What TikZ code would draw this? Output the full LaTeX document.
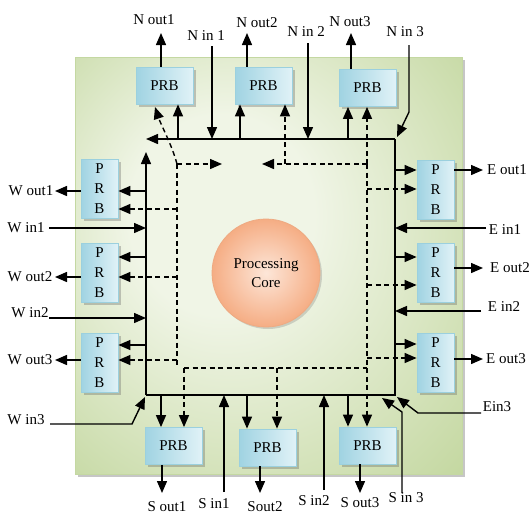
\documentclass[tikz,border=0pt]{standalone}
\usepackage{fontspec}
\setmainfont{Liberation Serif}
\usetikzlibrary{arrows.meta,shadows}
\definecolor{pnlIn}{HTML}{F0F5E6}
\definecolor{pnlOut}{HTML}{BAD191}
\definecolor{pnlB}{HTML}{C4D8A2}
\definecolor{prbL}{HTML}{A0D3E2}
\definecolor{prbR}{HTML}{E0F2F7}
\definecolor{prbB}{HTML}{9BD0DE}
\definecolor{coreIn}{HTML}{FDE6D8}
\definecolor{coreOut}{HTML}{F5AD84}
\definecolor{coreB}{HTML}{EEAA82}
\pgfdeclareradialshading{panelshade}{\pgfpoint{-8bp}{8bp}}{color(0bp)=(pnlIn); color(12bp)=(pnlIn); color(44bp)=(pnlOut); color(50bp)=(pnlOut)}
\begin{document}
\begin{tikzpicture}[x=1pt,y=-1pt,
  lbl/.style={font=\fontsize{15}{17}\selectfont, inner sep=0pt},
  prb/.style={draw=prbB, line width=0.8pt, left color=prbL, right color=prbR, inner sep=0pt,
    drop shadow={shadow xshift=2.5pt, shadow yshift=-2.5pt, opacity=0.35, fill=black!60}},
  hprb/.style={prb, minimum width=57pt, minimum height=37pt, font=\fontsize{15}{17}\selectfont},
  vprb/.style={prb, minimum width=37pt, minimum height=59pt, align=center, font=\fontsize{15}{20}\selectfont},
  ln/.style={line width=1.4pt},
  arr/.style={ln, -{Triangle[length=12pt,width=10pt]}},
  dln/.style={ln, dash pattern=on 5pt off 3.5pt},
  darr/.style={arr, dash pattern=on 5pt off 3.5pt},
]
\useasboundingbox (0,0) rectangle (530,515);

% panel
\node[draw=pnlB, line width=0.8pt, shade, shading=panelshade, minimum width=387pt, minimum height=417pt,
  drop shadow={shadow xshift=3pt, shadow yshift=-3pt, opacity=0.45, fill=black!50}] (panel) at (268.5,265.5) {};

% core
\node[circle, draw=coreB, line width=0.8pt, inner color=coreIn, outer color=coreOut, minimum size=108pt,
  align=center, font=\fontsize{15}{19}\selectfont,
  drop shadow={shadow xshift=2pt, shadow yshift=-2pt, opacity=0.25, fill=black!60}] (core) at (266,273) {Processing\\Core};

% PRBs
\node[hprb] (N1) at (164.5,85.5) {PRB};
\node[hprb] (N2) at (263.5,85.5) {PRB};
\node[hprb] (N3) at (367.5,88) {PRB};
\node[vprb] (W1) at (99.5,188.5) {P\\R\\B};
\node[vprb] (W2) at (99.5,272.5) {P\\R\\B};
\node[vprb] (W3) at (99.5,362.5) {P\\R\\B};
\node[vprb] (E1) at (435.5,190) {P\\R\\B};
\node[vprb] (E2) at (435.5,273) {P\\R\\B};
\node[vprb] (E3) at (435.5,362.5) {P\\R\\B};
\node[hprb] (S1) at (173.5,446) {PRB};
\node[hprb] (S2) at (267.5,447.5) {PRB};
\node[hprb] (S3) at (367.5,445.5) {PRB};

% labels
\node[lbl] (lNo1) at (154,20) {N out1};
\node[lbl] (lNo2) at (257,23) {N out2};
\node[lbl] (lNo3) at (350,22) {N out3};
\node[lbl] (lNi1) at (206,36) {N in 1};
\node[lbl] (lNi2) at (306,32) {N in 2};
\node[lbl] (lNi3) at (405,32) {N in 3};
\node[lbl] (lWo1) at (31,191) {W out1};
\node[lbl] (lWi1) at (26,228) {W in1};
\node[lbl] (lWo2) at (30,277) {W out2};
\node[lbl] (lWi2) at (30,313) {W in2};
\node[lbl] (lWo3) at (30,360) {W out3};
\node[lbl] (lWi3) at (26,420) {W in3};
\node[lbl] (lEo1) at (507,170) {E out1};
\node[lbl] (lEi1) at (505,230) {E in1};
\node[lbl] (lEo2) at (510,268) {E out2};
\node[lbl] (lEi2) at (504,307) {E in2};
\node[lbl] (lEo3) at (506,359) {E out3};
\node[lbl] (lEi3) at (497,407) {Ein3};
\node[lbl] (lSo1) at (167,507) {S out1};
\node[lbl] (lSi1) at (214,504) {S in1};
\node[lbl] (lSo2) at (265,507) {Sout2};
\node[lbl] (lSi2) at (314,501) {S in2};
\node[lbl] (lSo3) at (360,503) {S out3};
\node[lbl] (lSi3) at (406,498) {S in 3};

% square corners
\coordinate (TL) at (146,139);
\coordinate (TR) at (395,139);
\coordinate (BL) at (146,395);
\coordinate (BR) at (395,395);
\coordinate (LT) at (146,152);

% solid square
\draw[arr] (TR) -- (TL);
\draw[arr] (BL) -- (LT);
\draw[ln] (TR) -- (BR) -- (BL);

% North
\coordinate (no1) at (161,33);
\coordinate (no2) at (247,33);
\coordinate (no3) at (351,33);
\draw[arr] (N1.north -| no1) -- (no1);
\draw[arr] (N2.north -| no2) -- (no2);
\draw[arr] (N3.north -| no3) -- (no3);
\coordinate (ni1) at (212,46);
\coordinate (ni2) at (308,43);
\coordinate (ni3) at (409,45);
\coordinate (ni3b) at (409,112);
\coordinate (ni3t) at (397,137);
\draw[arr] (ni1) -- (ni1 |- TL);
\draw[arr] (ni2) -- (ni2 |- TL);
\draw[arr] (ni3) -- (ni3b) -- (ni3t);
\coordinate (nu1) at (178,139);
\coordinate (nu2) at (240,139);
\coordinate (nu3) at (348,139);
\draw[arr] (nu1) -- (nu1 |- N1.south);
\draw[arr] (nu2) -- (nu2 |- N2.south);
\draw[arr] (nu3) -- (nu3 |- N3.south);

% West
\coordinate (wo1) at (55,191);
\coordinate (wo2) at (55,277);
\coordinate (wo3) at (55,360);
\draw[arr] (W1.west |- wo1) -- (wo1);
\draw[arr] (W2.west |- wo2) -- (wo2);
\draw[arr] (W3.west |- wo3) -- (wo3);
\coordinate (wl1) at (146,191);
\coordinate (wl2) at (146,257);
\coordinate (wl3) at (146,345);
\draw[arr] (wl1) -- (wl1 -| W1.east);
\draw[arr] (wl2) -- (wl2 -| W2.east);
\draw[arr] (wl3) -- (wl3 -| W3.east);
\coordinate (wi1) at (49,228);
\coordinate (wi2) at (49,318);
\coordinate (wi3) at (50,424);
\coordinate (wi3b) at (132,424);
\coordinate (wi3t) at (145,397);
\draw[arr] (wi1) -- (wi1 -| TL);
\draw[arr] (wi2) -- (wi2 -| TL);
\draw[arr] (wi3) -- (wi3b) -- (wi3t);

% East
\coordinate (el1) at (395,170);
\coordinate (el2) at (395,257);
\coordinate (el3) at (395,344);
\draw[arr] (el1) -- (el1 -| E1.west);
\draw[arr] (el2) -- (el2 -| E2.west);
\draw[arr] (el3) -- (el3 -| E3.west);
\coordinate (eo1) at (483,170);
\coordinate (eo2) at (483,268);
\coordinate (eo3) at (483,359);
\draw[arr] (E1.east |- eo1) -- (eo1);
\draw[arr] (E2.east |- eo2) -- (eo2);
\draw[arr] (E3.east |- eo3) -- (eo3);
\coordinate (ei1) at (486,228);
\coordinate (ei2) at (481,311);
\coordinate (ei3) at (481,413);
\coordinate (ei3b) at (418,413);
\coordinate (ei3t) at (397,397);
\draw[arr] (ei1) -- (ei1 -| TR);
\draw[arr] (ei2) -- (ei2 -| TR);
\draw[arr] (ei3) -- (ei3b) -- (ei3t);

% South
\coordinate (sd1) at (161,395);
\coordinate (sd2) at (247,395);
\coordinate (sd3) at (348,395);
\draw[arr] (sd1) -- (sd1 |- S1.north);
\draw[arr] (sd2) -- (sd2 |- S2.north);
\draw[arr] (sd3) -- (sd3 |- S3.north);
\coordinate (so1) at (162,493);
\coordinate (so2) at (260,493);
\coordinate (so3) at (360,493);
\draw[arr] (S1.south -| so1) -- (so1);
\draw[arr] (S2.south -| so2) -- (so2);
\draw[arr] (S3.south -| so3) -- (so3);
\coordinate (si1) at (224,492);
\coordinate (si2) at (324,490);
\coordinate (si3) at (402,493);
\coordinate (si3b) at (402,412);
\coordinate (si3t) at (382,398);
\draw[arr] (si1) -- (si1 |- BL);
\draw[arr] (si2) -- (si2 |- BL);
\draw[arr] (si3) -- (si3b) -- (si3t);

% dashed network
\coordinate (dA) at (177,164);
\coordinate (dB) at (177,366);
\coordinate (dC) at (367,164);
\coordinate (dD) at (184,368);
\coordinate (dE) at (367,368);
\coordinate (dF) at (285,164);
\coordinate (dG) at (277,368);
\coordinate (dR) at (222,164);
\coordinate (dL) at (262,164);
\coordinate (dN1) at (155,107);
\draw[darr] (dA) .. controls (172,145) and (161,125) .. (dN1);
\draw[darr] (dA) -- (dR);
\draw[darr] (dC) -- (dL);
\draw[darr] (dF) -- (dF |- N2.south);
\draw[darr] (dC) -- (dC |- N3.south);
\draw[dln] (dA) -- (dB);
\draw[dln] (dD) -- (dE);
\draw[darr] (dC) -- (dC |- S3.north);
\draw[darr] (dD) -- (dD |- S1.north);
\draw[darr] (dG) -- (dG |- S2.north);
% west dashed
\coordinate (dw1) at (177,209);
\coordinate (dw2) at (177,277);
\coordinate (dw3) at (177,360);
\draw[darr] (dw1) -- (dw1 -| W1.east);
\draw[darr] (dw2) -- (dw2 -| W2.east);
\draw[darr] (dw3) -- (dw3 -| W3.east);
% east dashed
\coordinate (de1) at (367,189);
\coordinate (de2) at (367,285);
\coordinate (de3) at (367,358);
\draw[darr] (de1) -- (de1 -| E1.west);
\draw[darr] (de2) -- (de2 -| E2.west);
\draw[darr] (de3) -- (de3 -| E3.west);
\end{tikzpicture}
\end{document}
